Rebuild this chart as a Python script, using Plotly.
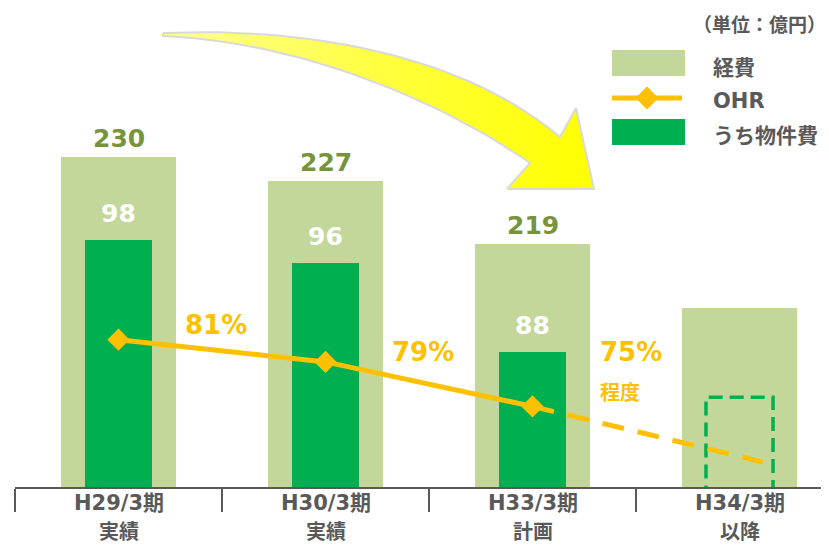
import plotly.graph_objects as go

# ---------------- data ----------------
periods = ["H29/3期", "H30/3期", "H33/3期", "H34/3期"]
period_notes = ["実績", "実績", "計画", "以降"]
expense = [230, 227, 219, 211]          # 経費 (4th bar unlabeled, height estimated)
expense_labels = ["230", "227", "219", ""]
material = [98, 96, 88]                   # うち物件費
material_target = 84                      # dashed target box (以降)
ohr = [81, 79, 75]                        # OHR actual/plan
ohr_future = [75, 70]                     # dashed projection
ohr_labels = ["81%", "79%", "75%"]

# ---------------- layout constants ----------------
OFF = 8                      # page body margin in browser
W, H = 829 - OFF, 547 - OFF
ML, MB = 15 - OFF, 60
PW, PH = W - ML, H - MB
CAT = 207.0
XR = [-0.5, -0.5 + PW / CAT]

LIGHT = "#C4D79B"
DARK = "#00B050"
GOLD = "#FFC000"
OLIVE = "#77933C"
GRAY = "#595959"
FONT = "DejaVu Sans, Noto Sans CJK JP, sans-serif"

def px(xp):
    return (xp - OFF - ML) / PW

def py(yp):
    return (PH - (yp - OFF)) / PH

def dx(xp):   # page pixel -> x data
    return (xp - OFF - ML) / CAT - 0.5

def dy(yp):   # page pixel -> pixel-axis data (y4)
    return PH - (yp - OFF)

xs = list(range(len(periods)))

fig = go.Figure()

# 経費 bars
fig.add_trace(go.Bar(x=xs, y=expense, width=0.56, marker=dict(color=LIGHT, line=dict(width=0)),
                     yaxis="y", showlegend=False, hoverinfo="skip"))
# うち物件費 bars
fig.add_trace(go.Bar(x=xs[:3], y=material, width=0.324, marker=dict(color=DARK, line=dict(width=0)),
                     yaxis="y2", showlegend=False, hoverinfo="skip"))
# dashed target box
bw = 0.162
fig.add_trace(go.Scatter(x=[3 - bw, 3 - bw, 3 + bw, 3 + bw], y=[0, material_target, material_target, 0],
                         mode="lines", line=dict(color=DARK, width=3.5, dash="14px,7px"),
                         yaxis="y2", showlegend=False, hoverinfo="skip"))
# OHR dashed projection
fig.add_trace(go.Scatter(x=[2, 3.113], y=ohr_future, mode="lines",
                         line=dict(color=GOLD, width=5, dash="22px,14px"),
                         yaxis="y3", showlegend=False, hoverinfo="skip"))
# OHR line
fig.add_trace(go.Scatter(x=xs[:3], y=ohr, mode="lines+markers",
                         line=dict(color=GOLD, width=5),
                         marker=dict(symbol="diamond", size=17, color=GOLD),
                         yaxis="y3", showlegend=False, hoverinfo="skip"))

# big curved arrow (decoration), built from cubic bezier outline
def bez(p0, p1, p2, p3, n=30):
    pts = []
    for i in range(n + 1):
        t = i / n
        a, b, c, d = (1 - t) ** 3, 3 * t * (1 - t) ** 2, 3 * t * t * (1 - t), t ** 3
        pts.append((a * p0[0] + b * p1[0] + c * p2[0] + d * p3[0],
                    a * p0[1] + b * p1[1] + c * p2[1] + d * p3[1]))
    return pts

outline = bez((163, 33), (300, 27), (460, 52), (560, 137))
outline += [(576, 108), (594, 189), (507, 189), (530, 163)]
outline += bez((530, 163), (440, 100), (300, 42), (163, 36))
outline.append((163, 33))
ax = [dx(p[0]) for p in outline]
ay = [dy(p[1]) for p in outline]
arrow_kw = dict(x=ax, y=ay, mode="lines", fill="toself", line=dict(color="#D9D9D9", width=2),
                yaxis="y4", showlegend=False, hoverinfo="skip")
try:
    fig.add_trace(go.Scatter(fillgradient=dict(type="horizontal",
                                               colorscale=[[0, "#FFFF99"], [0.5, "#FFFF40"], [1, "#FFFF00"]]),
                             **arrow_kw))
except Exception:
    fig.add_trace(go.Scatter(fillcolor="#FFFF26", **arrow_kw))

annotations = []
# expense labels
for x, v, t in zip(xs, expense, expense_labels):
    if t:
        annotations.append(dict(x=x, y=v, xref="x", yref="y", text="<b>%s</b>" % t, showarrow=False,
                                yanchor="bottom", yshift=2, font=dict(family=FONT, size=25, color=OLIVE)))
# material labels
for x, v in zip(xs, material):
    annotations.append(dict(x=x, y=v, xref="x", yref="y2", text="<b>%d</b>" % v, showarrow=False,
                            yanchor="bottom", yshift=10, font=dict(family=FONT, size=25, color="white")))
# OHR labels
ohr_shift = [(97, 15), (97, 10), (98, 54)]
for x, v, t, (sx, sy) in zip(xs, ohr, ohr_labels, ohr_shift):
    annotations.append(dict(x=x, y=v, xref="x", yref="y3", text="<b>%s</b>" % t, showarrow=False,
                            xshift=sx, yshift=sy, font=dict(family=FONT, size=26, color=GOLD)))
annotations.append(dict(x=2, y=ohr[2], xref="x", yref="y3", text="<b>程度</b>", showarrow=False,
                        xshift=87, yshift=13, font=dict(family=FONT, size=20, color=GOLD)))
# category labels
for x, p, n in zip(xs, periods, period_notes):
    annotations.append(dict(x=x, y=py(503), xref="x", yref="paper", text="<b>%s</b>" % p, showarrow=False,
                            yanchor="middle", font=dict(family=FONT, size=21, color=GRAY)))
    annotations.append(dict(x=x, y=py(532), xref="x", yref="paper", text="<b>%s</b>" % n, showarrow=False,
                            yanchor="middle", borderpad=0, font=dict(family=FONT, size=20, color=GRAY)))
# unit + legend text
annotations.append(dict(x=px(828), y=py(25), xref="paper", yref="paper", text="<b>（単位：億円）</b>",
                        showarrow=False, xanchor="right", yanchor="middle",
                        font=dict(family=FONT, size=19, color=GRAY)))
for t, yy in [("経費", 68), ("OHR", 101), ("うち物件費", 136)]:
    annotations.append(dict(x=px(711), y=py(yy), xref="paper", yref="paper", text="<b>%s</b>" % t,
                            showarrow=False, xanchor="left", yanchor="middle",
                            font=dict(family=FONT, size=21, color=GRAY)))

shapes = []
# legend swatches
shapes.append(dict(type="rect", xref="paper", yref="paper", x0=px(612), x1=px(685), y0=py(50), y1=py(76),
                   fillcolor=LIGHT, line=dict(width=0)))
shapes.append(dict(type="rect", xref="paper", yref="paper", x0=px(612), x1=px(685), y0=py(119), y1=py(145),
                   fillcolor=DARK, line=dict(width=0)))
shapes.append(dict(type="line", xref="paper", yref="paper", x0=px(612), x1=px(682), y0=py(98), y1=py(98),
                   line=dict(color=GOLD, width=5)))
dpath = "M %f,%f L %f,%f L %f,%f L %f,%f Z" % (px(636), py(98), px(647), py(87), px(658), py(98), px(647), py(109))
shapes.append(dict(type="path", xref="paper", yref="paper", path=dpath, fillcolor=GOLD, line=dict(color=GOLD, width=1)))

hidden = dict(visible=False, showgrid=False, zeroline=False, fixedrange=True)
fig.update_layout(
    width=W, height=H,
    margin=dict(l=ML, r=0, t=0, b=MB, pad=0),
    paper_bgcolor="white", plot_bgcolor="white",
    barmode="overlay", bargap=0,
    showlegend=False,
    xaxis=dict(range=XR, showgrid=False, zeroline=False, showline=True, linecolor=GRAY, linewidth=2,
               ticks="outside", ticklen=23, tickwidth=2, tickcolor=GRAY,
               tickvals=[-0.5, 0.5, 1.5, 2.5], showticklabels=False, fixedrange=True),
    yaxis=dict(range=[188.5, 248.7], **hidden),
    yaxis2=dict(range=[76.0, 118.7], overlaying="y", **hidden),
    yaxis3=dict(range=[67.76, 110.8], overlaying="y", **hidden),
    yaxis4=dict(range=[0, PH], overlaying="y", **hidden),
    annotations=annotations,
    shapes=shapes,
)

fig.write_html("out.html")
